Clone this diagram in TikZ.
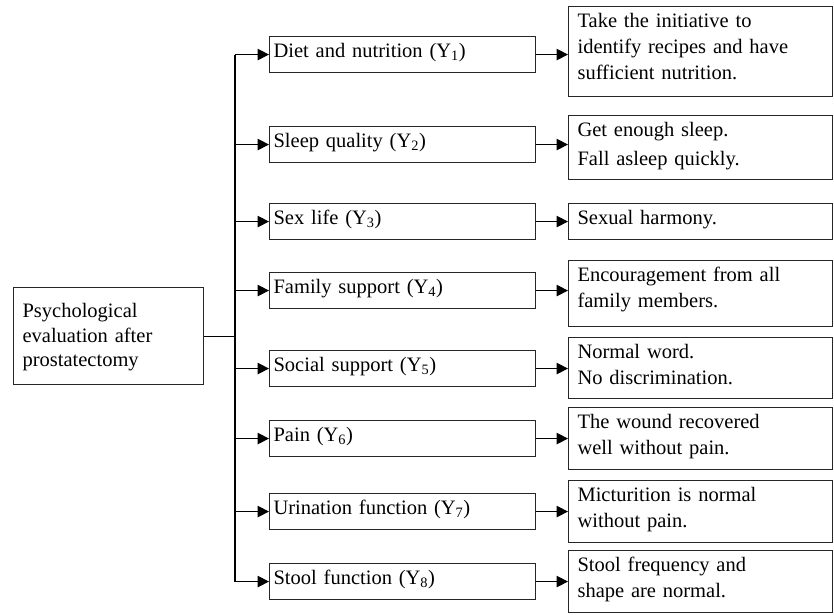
\documentclass[tikz,border=0pt]{standalone}
\usepackage{fontspec}
\setmainfont{Liberation Serif}
\usetikzlibrary{arrows.meta}
\tikzset{
  bx/.style={draw=black!85, line width=1.1pt, anchor=north west, inner ysep=0pt,
    align=left, text height=21pt, font=\fontsize{20.5}{26}\selectfont},
  midbox/.style={bx, inner xsep=4pt, text width=258pt, text depth=15pt},
  resbox/.style={bx, inner xsep=9pt, text width=246pt},
  conn/.style={line width=1.1pt, black},
  arr/.style={conn, -{Triangle[length=11.5pt,width=11.5pt]}},
}
\begin{document}
\begin{tikzpicture}[x=1pt,y=-1pt]
\useasboundingbox (0,0) rectangle (834,614);
% root
\node[bx, inner xsep=9pt, text width=172pt, text height=30pt, text depth=67pt,
  font=\fontsize{20.5}{24.5}\selectfont] (L) at (13,287)
  {Psychological\\evaluation after\\prostatectomy};
% middle boxes
\node[midbox] (M1) at (269,36)  {Diet and nutrition (Y\textsubscript{1})};
\node[midbox] (M2) at (269,126) {Sleep quality (Y\textsubscript{2})};
\node[midbox] (M3) at (269,203) {Sex life (Y\textsubscript{3})};
\node[midbox] (M4) at (269,272) {Family support (Y\textsubscript{4})};
\node[midbox] (M5) at (269,350) {Social support (Y\textsubscript{5})};
\node[midbox] (M6) at (269,420) {Pain (Y\textsubscript{6})};
\node[midbox] (M7) at (269,493) {Urination function (Y\textsubscript{7})};
\node[midbox] (M8) at (269,563) {Stool function (Y\textsubscript{8})};
% result boxes
\node[resbox, text depth=69pt] (R1) at (568,6)
  {Take the initiative to\\identify recipes and have\\sufficient nutrition.};
\node[resbox, text depth=43pt] (R2) at (568,115)
  {Get enough sleep.\\[3pt]Fall asleep quickly.};
\node[resbox, text depth=15pt] (R3) at (568,203) {Sexual harmony.};
\node[resbox, text depth=45pt] (R4) at (568,260)
  {Encouragement from all\\family members.};
\node[resbox, text depth=40pt] (R5) at (568,337)
  {Normal word.\\No discrimination.};
\node[resbox, text depth=41pt] (R6) at (568,407)
  {The wound recovered\\well without pain.};
\node[resbox, text depth=41pt] (R7) at (568,480)
  {Micturition is normal\\without pain.};
\node[resbox, text depth=41pt] (R8) at (568,550)
  {Stool frequency and\\shape are normal.};
% trunk
\coordinate (tx) at (235,0);
\draw[conn] (L.east) -- (L.east -| tx);
\draw[conn] (M1.west -| tx) -- (M8.west -| tx);
\foreach \i in {1,...,8} {
  \draw[arr] (M\i.west -| tx) -- (M\i.west);
  \draw[arr] (M\i.east) -- (M\i.east -| R\i.west);
}
\end{tikzpicture}
\end{document}
